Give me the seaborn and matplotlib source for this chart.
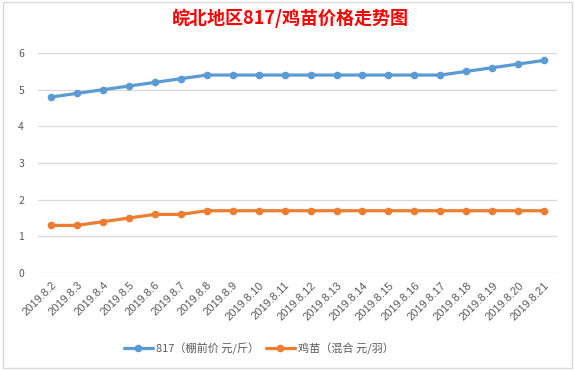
import numpy as np
import pandas as pd
import seaborn as sns
import matplotlib.pyplot as plt
from matplotlib.patches import Rectangle

# data
dates = ['2019.8.2', '2019.8.3', '2019.8.4', '2019.8.5', '2019.8.6', '2019.8.7',
         '2019.8.8', '2019.8.9', '2019.8.10', '2019.8.11', '2019.8.12', '2019.8.13',
         '2019.8.14', '2019.8.15', '2019.8.16', '2019.8.17', '2019.8.18', '2019.8.19',
         '2019.8.20', '2019.8.21']
price_817 = [4.8, 4.9, 5.0, 5.1, 5.2, 5.3, 5.4, 5.4, 5.4, 5.4, 5.4, 5.4, 5.4, 5.4,
             5.4, 5.4, 5.5, 5.6, 5.7, 5.8]
price_chick = [1.3, 1.3, 1.4, 1.5, 1.6, 1.6, 1.7, 1.7, 1.7, 1.7, 1.7, 1.7, 1.7, 1.7,
               1.7, 1.7, 1.7, 1.7, 1.7, 1.7]
name_817 = '817（棚前价 元/斤）'
name_chick = '鸡苗（混合 元/羽）'

sns.set_style('white')
plt.rcParams['font.family'] = ['Noto Sans CJK SC', 'DejaVu Sans']
grey = '#595959'

df = pd.DataFrame({'idx': np.arange(len(dates)), '817': price_817, 'chick': price_chick})

fig = plt.figure(figsize=(5.75, 3.71), dpi=100)
ax = fig.add_axes([0.066, 0.264, 0.903, 0.593])

sns.lineplot(data=df, x='idx', y='817', ax=ax, color='#5B9BD5', linewidth=2.3,
             marker='o', markersize=5.5, markeredgewidth=0, label=name_817)
sns.lineplot(data=df, x='idx', y='chick', ax=ax, color='#ED7D31', linewidth=2.3,
             marker='o', markersize=5.5, markeredgewidth=0, label=name_chick)

ax.set_xlim(-0.5, len(dates) - 0.5)
ax.set_ylim(0, 6)
ax.set_yticks(range(0, 7))
ax.set_xticks(df['idx'])
ax.set_xticklabels(dates, rotation=45, ha='right', va='top', rotation_mode='anchor',
                   fontsize=8, color=grey, family='Liberation Sans')
ax.tick_params(axis='y', labelsize=7.5, labelcolor=grey, length=0, pad=10)
ax.tick_params(axis='x', length=0, pad=5)
ax.set_xlabel('')
ax.set_ylabel('')
ax.yaxis.grid(True, color='#D9D9D9', linewidth=0.9)
ax.xaxis.grid(False)
for s in ax.spines.values():
    s.set_visible(False)

ax.get_legend().remove()
h, l = ax.get_legend_handles_labels()
fig.legend(h, l, loc='center', bbox_to_anchor=(0.45, 0.06), ncol=2, frameon=False,
           fontsize=8, labelcolor=grey, handlelength=2.6, columnspacing=0.6,
           handletextpad=0.3)

fig.text(0.505, 0.95, '皖北地区817/鸡苗价格走势图', ha='center', va='center',
         fontsize=13, fontweight='bold', color='#FF0000')

# chart border
fig.patches.append(Rectangle((3 / 575, 3 / 371), 569 / 575, 366 / 371,
                             transform=fig.transFigure, fill=False,
                             edgecolor='#D9D9D9', linewidth=1))

fig.savefig('out.png', dpi=100)
